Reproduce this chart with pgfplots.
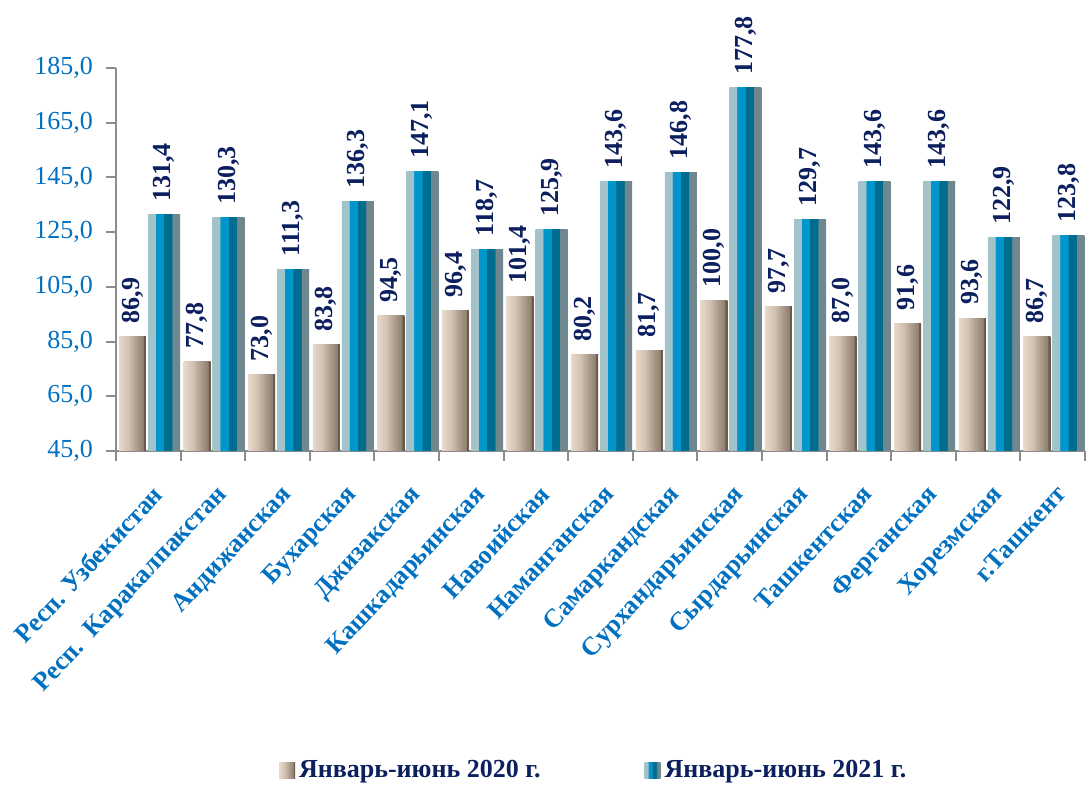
\documentclass[border=0pt]{standalone}
\usepackage{fontspec}
\setmainfont{Liberation Serif}
\usepackage{pgfplots}
\usepackage{pgfplotstable}
\pgfplotsset{compat=1.18}
\definecolor{tickblue}{HTML}{0070C0}
\definecolor{navy}{HTML}{0C1F5E}
\definecolor{axgray}{HTML}{8C8C8C}
\definecolor{bA}{HTML}{E8D9CB}
\definecolor{bB}{HTML}{D2C2B2}
\definecolor{bC}{HTML}{A99A8B}
\definecolor{bD}{HTML}{8E7F71}
\definecolor{bE}{HTML}{6B5A4A}
\definecolor{cA}{HTML}{A3C3CB}
\definecolor{cB}{HTML}{0096CC}
\definecolor{cC}{HTML}{006C8E}
\definecolor{cD}{HTML}{6F878E}
\pgfdeclarehorizontalshading{beigebar}{100bp}{color(0bp)=(bA); color(25bp)=(bA); color(42bp)=(bB); color(58bp)=(bC); color(70bp)=(bD); color(71bp)=(bE); color(100bp)=(bE)}
\pgfdeclarehorizontalshading{bluebar}{100bp}{color(0bp)=(cA); color(36bp)=(cA); color(37bp)=(cB); color(49bp)=(cB); color(50bp)=(cC); color(62bp)=(cC); color(63bp)=(cD); color(100bp)=(cD)}
\pgfplotstableread{
x a b
0 86.9 131.4
1 77.8 130.3
2 73.0 111.3
3 83.8 136.3
4 94.5 147.1
5 96.4 118.7
6 101.4 125.9
7 80.2 143.6
8 81.7 146.8
9 100.0 177.8
10 97.7 129.7
11 87.0 143.6
12 91.6 143.6
13 93.6 122.9
14 86.7 123.8
}\datatable
\begin{document}
\begin{tikzpicture}
\useasboundingbox (0,0) rectangle (545pt,392.5pt);
\begin{axis}[
  at={(58pt,167pt)}, anchor=south west,
  scale only axis, width=484.5pt, height=191.5pt,
  xmin=-0.5, xmax=14.5, ymin=45, ymax=185,
  ytick={45,65,...,185},
  xtick={0,...,14},
  minor xtick={-0.5,0.5,...,14.5},
  xticklabels={Респ. Узбекистан, Респ.\ \ Каракалпакстан, Андижанская, Бухарская, Джизакская, Кашкадарьинская, Навоийская, Наманганская, Самаркандская, Сурхандарьинская, Сырдарьинская, Ташкентская, Ферганская, Хорезмская, г.Ташкент},
  axis x line*=bottom, axis y line*=left,
  axis line style={axgray, line width=1pt},
  tick align=outside,
  major x tick style={draw=none},
  minor x tick style={axgray, line width=1pt},
  major y tick style={axgray, line width=1pt},
  major tick length=5pt, minor tick length=5pt,
  tick label style={font=\fontsize{13}{15}\selectfont},
  xticklabel style={rotate=47, anchor=north east, font=\fontsize{13}{15}\selectfont\bfseries, color=tickblue, xshift=-4pt, yshift=-5pt},
  yticklabel style={color=tickblue, xshift=-3pt, /pgf/number format/.cd, fixed, fixed zerofill, precision=1, use comma, assume math mode=true},
  clip mode=individual,
  nodes near coords={\pgfmathprintnumber[fixed,fixed zerofill,precision=1,use comma,assume math mode=true]{\pgfplotspointmeta}},
  every node near coord/.append style={rotate=90, anchor=west, font=\fontsize{13}{15}\selectfont\bfseries, color=navy, xshift=3pt},
  legend style={at={(0.494,-0.833)}, anchor=center, draw=none, fill=none, legend columns=2,
     font=\fontsize{13}{15}\selectfont\bfseries, text=navy,
     /tikz/every even column/.append style={column sep=50pt}},
  legend image code/.code={\path[#1] (0pt,-4pt) rectangle (8pt,4pt);},
]
\addlegendimage{shading=beigebar, draw=none}
\addlegendentry{Январь-июнь 2020 г.}
\addlegendimage{shading=bluebar, draw=none}
\addlegendentry{Январь-июнь 2021 г.}
\pgfplotsinvokeforeach{0,...,14}{
\addplot[ybar, bar width=13.5pt, bar shift=0pt, shading=beigebar, draw=none, forget plot,
  restrict expr to domain={\coordindex}{#1:#1}]
  table[x expr=\thisrow{x}-0.245, y=a] {\datatable};
\addplot[ybar, bar width=16pt, bar shift=0pt, shading=bluebar, draw=none, forget plot,
  restrict expr to domain={\coordindex}{#1:#1}]
  table[x expr=\thisrow{x}+0.243, y=b] {\datatable};
}
\end{axis}
\end{tikzpicture}
\end{document}
